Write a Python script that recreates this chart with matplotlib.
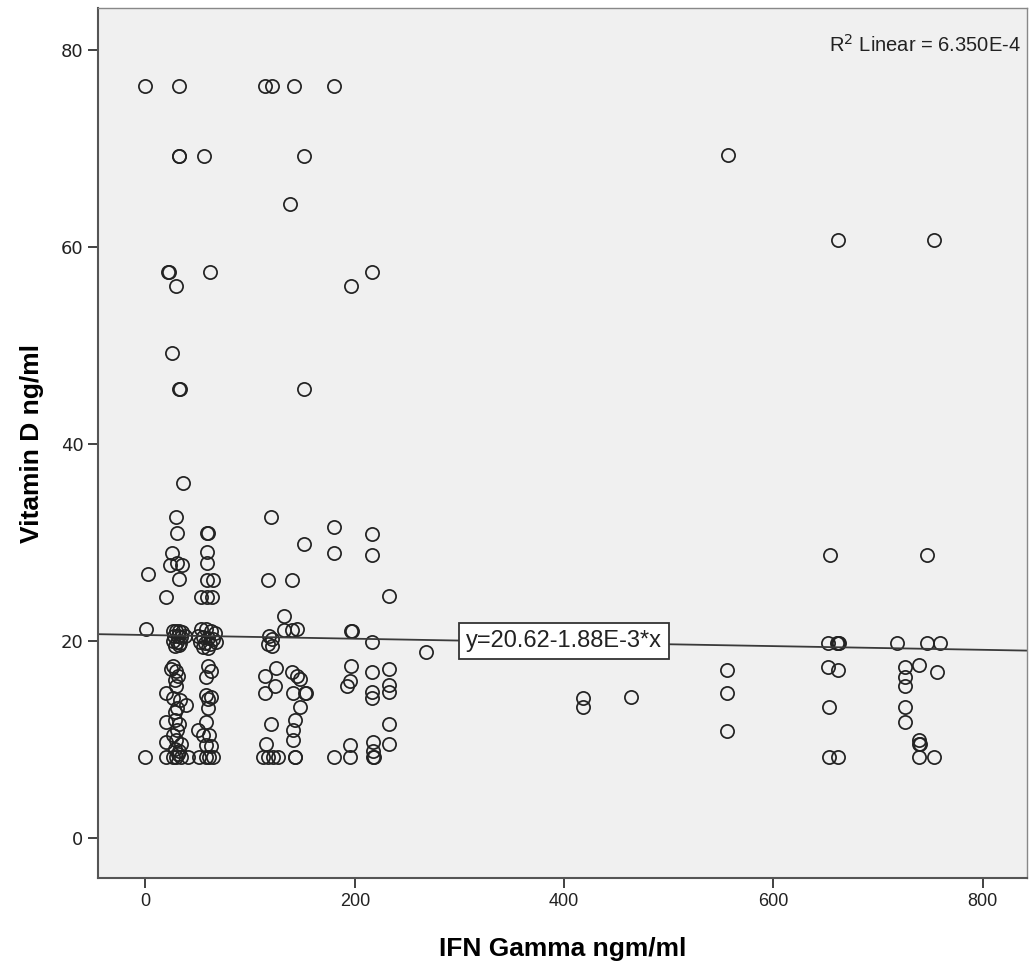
import numpy as np
import matplotlib
matplotlib.use('Agg')
import matplotlib.pyplot as plt

## IFN Gamma (x) / Vitamin D (y) values, grouped by column
# upper part of the chart (y > 22)
upper_x = [0, 31.8, 114.6, 120.9, 142, 180.2,
           31.8, 32.5, 55.6, 151.5, 556.8, 138.5,
           21.5, 22.3, 29.5, 61.4, 196.8, 216.8, 662, 753.4,
           25.4, 32, 32.8, 151.9, 35.9, 29.3, 120.3,
           180.2, 216.9, 151.5, 180.2, 216.9,
           30, 58.8, 59.5, 25.7, 58.8, 23, 30, 35, 58.8,
           2.2, 32, 58.8, 64.5, 20, 53.4, 58.8, 63.9,
           117.1, 140.4, 232.7, 132, 654, 746.3]
upper_y = [76.4, 76.4, 76.4, 76.4, 76.4, 76.4,
           69.3, 69.3, 69.3, 69.3, 69.4, 64.4,
           57.5, 57.5, 56.1, 57.5, 56.1, 57.5, 60.7, 60.7,
           49.3, 45.65, 45.65, 45.65, 36.1, 32.6, 32.6,
           31.6, 30.9, 29.9, 28.9, 28.7,
           31.0, 31.0, 31.0, 28.9, 29.1, 27.7, 27.9, 27.7, 27.9,
           26.8, 26.3, 26.2, 26.2, 24.5, 24.5, 24.5, 24.5,
           26.2, 26.2, 24.6, 22.5, 28.7, 28.7]

# left column, IFN ~20-40
col_a_x = [0.9, 26, 29, 32, 35, 27, 31, 34, 38, 26, 30, 33, 28, 32,
           26, 29, 24, 31, 28, 20, 29, 33, 39, 26, 30,
           28, 20, 28, 32.5, 30, 26, 20, 29.4, 34, 28, 32,
           0, 20, 26, 29.4, 34, 41, 31]
col_a_y = [21.2, 21.0, 21.0, 21.0, 20.9, 20.5, 20.5, 20.4, 20.5, 20.0, 19.9, 19.8, 19.5, 19.6,
           17.5, 17.0, 17.2, 16.5, 16.0, 14.7, 15.4, 14.0, 13.5, 14.2, 13.2,
           12.8, 11.8, 12.0, 11.6, 11.0, 10.5, 9.8, 9.95, 9.6, 9.0, 8.8,
           8.25, 8.25, 8.25, 8.25, 8.25, 8.25, 8.5]

# second column, IFN ~50-68
col_b_x = [53, 58, 63, 66, 50, 55, 60, 65, 52, 57, 62, 67, 55, 60,
           59.6, 62.8, 58, 58, 63, 60, 59.6,
           58, 50, 55, 61, 58, 63, 51.6, 58, 64.4, 61]
col_b_y = [21.2, 21.2, 21.0, 20.8, 20.5, 20.4, 20.3, 20.2, 19.9, 19.8, 19.7, 19.9, 19.4, 19.3,
           17.5, 17.0, 16.4, 14.5, 14.3, 14.1, 13.2,
           11.8, 11.0, 10.5, 10.5, 9.4, 9.3, 8.25, 8.25, 8.25, 8.25]

# middle columns, IFN ~110-235
col_c_x = [118, 121, 117, 121, 132, 140.2, 145, 196.8, 197.5, 216.9,
           124.5, 113.9, 140, 145, 148, 196.8, 216.9, 232.7,
           123.5, 113.9, 141, 152.2, 153, 195, 192.6, 216.9, 216.9, 232.7, 232.7,
           147.4, 142.5, 141, 141, 120.3, 232.7,
           115.4, 195.2, 217.5, 232.7,
           112.2, 117, 121.7, 126.5, 142.6, 143.2, 180.2, 195.2, 217.5, 218.2, 217.5]
col_c_y = [20.5, 20.2, 19.7, 19.5, 21.1, 21.1, 21.2, 21.0, 21.0, 19.9,
           17.3, 16.5, 16.9, 16.5, 16.2, 17.5, 16.9, 17.2,
           15.4, 14.7, 14.7, 14.7, 14.7, 15.9, 15.4, 14.85, 14.2, 15.5, 14.85,
           13.3, 12.0, 11.0, 9.95, 11.6, 11.6,
           9.6, 9.4, 9.8, 9.6,
           8.25, 8.25, 8.25, 8.25, 8.25, 8.25, 8.25, 8.25, 8.25, 8.25, 8.8]

# right side, IFN > 250
right_x = [268.5, 417.6, 417.6, 464.4, 555.8, 555.8, 555.8,
           652.4, 660.4, 661.9, 662.5, 652.4, 661.9, 653.3, 653.3, 661.9,
           717.7, 746.4, 759.1, 725.5, 739.3, 755.9, 725.5, 725.5, 725.5, 725.5,
           739.3, 739.3, 739.8, 739.3, 753.4]
right_y = [18.9, 14.2, 13.3, 14.3, 17.1, 14.75, 10.9,
           19.8, 19.8, 19.8, 19.8, 17.4, 17.1, 13.3, 8.25, 8.25,
           19.8, 19.8, 19.8, 17.4, 17.6, 16.9, 16.4, 15.4, 13.3, 11.8,
           10.0, 9.6, 9.6, 8.25, 8.25]

## Linear fit reported on the chart
intercept = 20.62
slope = -1.88e-3
r_squared_text = 'R$^2$ Linear = 6.350E-4'
fit_text = 'y=20.62-1.88E-3*x'

x_ticks = [0, 200, 400, 600, 800]
y_ticks = [0, 20, 40, 60, 80]

ifn = np.array(upper_x + col_a_x + col_b_x + col_c_x + right_x)
vitd = np.array(upper_y + col_a_y + col_b_y + col_c_y + right_y)

plt.rcParams['font.family'] = ['Liberation Sans', 'DejaVu Sans']

fig = plt.figure(figsize=(10.31, 9.76), dpi=100)
ax = fig.add_axes([0.0951, 0.1004, 0.9010, 0.8914])
ax.set_facecolor('#f0f0f0')

ax.plot(ifn, vitd, linestyle='none', marker='o', markersize=9.5,
        markerfacecolor='none', markeredgecolor='#222222', markeredgewidth=1.25)

ax.axline((0, intercept), slope=slope, color='#3a3a3a', linewidth=1.3)

ax.text(400, 20.0, fit_text, fontsize=17, ha='center', va='center', color='#222222',
        bbox=dict(boxstyle='square,pad=0.3', facecolor='white', edgecolor='#333333', linewidth=1.3))
ax.text(0.993, 0.958, r_squared_text, transform=ax.transAxes, fontsize=14.5,
        ha='right', va='center', color='#222222')

ax.set_xlim(-45.3, 842.3)
ax.set_ylim(-4.06, 84.3)
ax.set_xticks(x_ticks)
ax.set_yticks(y_ticks)

for side in ['left', 'bottom']:
    ax.spines[side].set_color('#555555')
    ax.spines[side].set_linewidth(1.5)
for side in ['top', 'right']:
    ax.spines[side].set_color('#888888')
    ax.spines[side].set_linewidth(1.0)

ax.tick_params(direction='out', length=7, width=1.3, color='#333333', labelsize=13, labelcolor='#222222')
for lbl in ax.get_yticklabels():
    lbl.set_family('DejaVu Sans')

ax.set_xlabel('IFN Gamma ngm/ml', fontsize=19, fontweight='bold', labelpad=20)
ax.set_ylabel('Vitamin D ng/ml', fontsize=19, fontweight='bold', labelpad=12)

fig.savefig('out.png', dpi=100)
